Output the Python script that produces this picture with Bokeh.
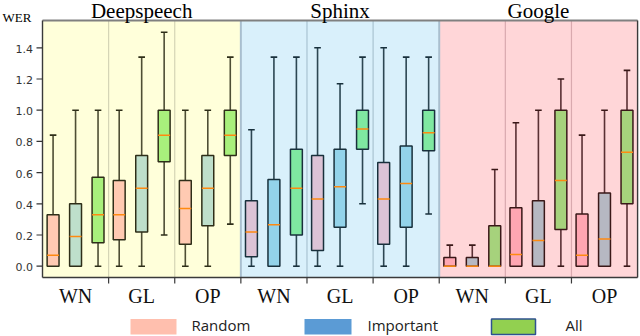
from bokeh.plotting import figure
from bokeh.models import ColumnDataSource, Range1d
from bokeh.core.properties import value
from bokeh.embed import file_html
from bokeh.resources import INLINE

# ---------------- data ----------------
systems = ["Deepspeech", "Sphinx", "Google"]
groups = ["WN", "GL", "OP"]
variants = ["Random", "Important", "All"]
y_ticks = [0.0, 0.2, 0.4, 0.6, 0.8, 1.0, 1.2, 1.4]
y_label = "WER"

# box order inside each system: WN(Random, Important, All), GL(...), OP(...)
ds_low = [0.0, 0.0, 0.0, 0.0, 0.0, 0.20, 0.0, 0.0, 0.27]
ds_q1 = [0.0, 0.0, 0.15, 0.17, 0.22, 0.67, 0.14, 0.26, 0.71]
ds_med = [0.07, 0.19, 0.33, 0.33, 0.50, 0.84, 0.37, 0.50, 0.84]
ds_q3 = [0.33, 0.40, 0.57, 0.55, 0.71, 1.0, 0.55, 0.71, 1.0]
ds_high = [0.84, 1.0, 1.0, 1.0, 1.34, 1.5, 1.0, 1.0, 1.34]

sp_low = [0.0, 0.0, 0.0, 0.0, 0.0, 0.40, 0.0, 0.0, 0.335]
sp_q1 = [0.06, 0.0, 0.20, 0.10, 0.25, 0.75, 0.14, 0.25, 0.74]
sp_med = [0.22, 0.265, 0.50, 0.43, 0.51, 0.88, 0.43, 0.53, 0.855]
sp_q3 = [0.42, 0.555, 0.75, 0.71, 0.75, 1.0, 0.665, 0.77, 1.0]
sp_high = [0.875, 1.34, 1.34, 1.40, 1.17, 1.34, 1.40, 1.34, 1.34]

gg_low = [0.0, 0.0, 0.0, 0.0, 0.0, 0.0, 0.0, 0.0, 0.0]
gg_q1 = [0.0, 0.0, 0.0, 0.0, 0.0, 0.235, 0.0, 0.0, 0.40]
gg_med = [0.0, 0.0, 0.0, 0.075, 0.165, 0.55, 0.07, 0.175, 0.73]
gg_q3 = [0.055, 0.055, 0.26, 0.375, 0.42, 1.0, 0.335, 0.47, 1.0]
gg_high = [0.135, 0.135, 0.62, 0.92, 1.0, 1.2, 0.84, 1.0, 1.255]

stats = {
    "Deepspeech": (ds_low, ds_q1, ds_med, ds_q3, ds_high),
    "Sphinx": (sp_low, sp_q1, sp_med, sp_q3, sp_high),
    "Google": (gg_low, gg_q1, gg_med, gg_q3, gg_high),
}

# ---------------- styles ----------------
bg_colors = {"Deepspeech": "#FFFFDA", "Sphinx": "#D9F0FB", "Google": "#FFD6D8"}
div_colors = {"Deepspeech": "#D5D5B5", "Sphinx": "#A9C3D2", "Google": "#D9A9AE"}
box_fills = {
    "Deepspeech": ["#FFCAB2", "#BEDFCB", "#A8F07C"],
    "Sphinx": ["#DCC3D6", "#93D3EA", "#7FE8A1"],
    "Google": ["#FFA6B2", "#B6B8C2", "#A6D27C"],
}
edge_colors = {"Deepspeech": "#2E2E18", "Sphinx": "#18303C", "Google": "#3A1818"}
whisk_colors = {"Deepspeech": "#4E4E34", "Sphinx": "#2C4652", "Google": "#5A3034"}
median_color = "#FF8A10"
legend_fills = ["#FFBFAE", "#5B9BD5", "#92D050"]
legend_lines = [None, None, "#2F528F"]

offsets = [-0.34, 0.0, 0.34]
box_w = 0.18
cap_w = 0.10

# layout: the frame covers the whole canvas, pixel helpers map to data
W, H = 640, 336
X_SCALE = 66.12          # px per group
X0 = -0.5 - 42 / X_SCALE
X1 = X0 + W / X_SCALE
PX_PER_Y = 156.0
ZERO_PX = 265.7
Y_TOP = ZERO_PX / PX_PER_Y
Y_BOT = Y_TOP - H / PX_PER_Y


def px2x(px):
    return X0 + px / X_SCALE


def px2y(py):
    return Y_TOP - py / PX_PER_Y


AXIS_Y = px2y(277)       # bottom of plotting area
TOP_Y = px2y(20)         # top of plotting area
LEFT_X, RIGHT_X = -0.5, 8.5

p = figure(width=W, height=H, output_backend="svg", toolbar_location=None,
           title=None, x_range=Range1d(X0, X1), y_range=Range1d(Y_BOT, Y_TOP),
           min_border=0, background_fill_color="white", border_fill_color="white")
p.xgrid.visible = False
p.ygrid.visible = False
p.xaxis.visible = False
p.yaxis.visible = False
p.outline_line_color = None

# section backgrounds
for si, s in enumerate(systems):
    p.quad(left=[si * 3 - 0.5], right=[si * 3 + 2.5], bottom=[AXIS_Y], top=[TOP_Y],
           fill_color=bg_colors[s], line_color=None)

# group dividers inside sections
for si, s in enumerate(systems):
    xs = [si * 3 + 0.5, si * 3 + 1.5]
    p.segment(x0=xs, x1=xs, y0=[AXIS_Y] * 2, y1=[TOP_Y] * 2, line_color=div_colors[s], line_width=1.2)
sb = [2.5, 5.5]
p.segment(x0=sb, x1=sb, y0=[AXIS_Y] * 2, y1=[TOP_Y] * 2, line_color="#A9BFCF", line_width=2)

# boxes
for si, s in enumerate(systems):
    low, q1, med, q3, high = stats[s]
    xs, fills = [], []
    for gi in range(len(groups)):
        for vi in range(len(variants)):
            xs.append(si * 3 + gi + offsets[vi])
            fills.append(box_fills[s][vi])
    src = ColumnDataSource(dict(x=xs, low=low, q1=q1, med=med, q3=q3, high=high, fill=fills,
                                xl=[x - box_w / 2 for x in xs], xr=[x + box_w / 2 for x in xs],
                                cl=[x - cap_w / 2 for x in xs], cr=[x + cap_w / 2 for x in xs]))
    wc = whisk_colors[s]
    p.segment(x0="x", x1="x", y0="q3", y1="high", source=src, line_color=wc, line_width=1.6)
    p.segment(x0="x", x1="x", y0="low", y1="q1", source=src, line_color=wc, line_width=1.6)
    p.segment(x0="cl", x1="cr", y0="high", y1="high", source=src, line_color=edge_colors[s], line_width=1.6)
    p.segment(x0="cl", x1="cr", y0="low", y1="low", source=src, line_color=edge_colors[s], line_width=1.6)
    p.quad(left="xl", right="xr", bottom="q1", top="q3", source=src, fill_color="fill",
           line_color=edge_colors[s], line_width=1.5)
    p.segment(x0="xl", x1="xr", y0="med", y1="med", source=src, line_color=median_color, line_width=1.5)

# plot-area border: top grey, others dark
p.segment(x0=[LEFT_X], x1=[RIGHT_X], y0=[TOP_Y], y1=[TOP_Y], line_color="#808080", line_width=1.8)
p.segment(x0=[RIGHT_X], x1=[RIGHT_X], y0=[AXIS_Y], y1=[TOP_Y], line_color="#3A3A3A", line_width=1.4)
p.segment(x0=[LEFT_X], x1=[LEFT_X], y0=[AXIS_Y], y1=[TOP_Y], line_color="#3A3A3A", line_width=1.4)
p.segment(x0=[LEFT_X], x1=[RIGHT_X], y0=[AXIS_Y], y1=[AXIS_Y], line_color="#3A3A3A", line_width=1.4)


# text baseline correction (Bokeh places alphabetic baselines somewhat low)
def base(py, size, k=0.25):
    return px2y(py - k * size)


# y ticks and labels
p.segment(x0=[px2x(36)] * len(y_ticks), x1=[LEFT_X] * len(y_ticks), y0=y_ticks, y1=y_ticks,
          line_color="#333333", line_width=1.2)
p.text(x=[px2x(32.5)] * len(y_ticks), y=[t - (3.8 - 0.25 * 11) / PX_PER_Y for t in y_ticks],
       text=[f"{t:.1f}" for t in y_ticks], text_align="right", text_baseline="alphabetic",
       text_font=value("DejaVu Sans"), text_font_size="11px", text_color="#333333")
p.text(x=[px2x(2)], y=[base(20, 13)], text=[y_label], text_align="left",
       text_baseline="alphabetic", text_font=value("Liberation Serif"),
       text_font_size="13px", text_color="#000000")

# x ticks at group boundaries and category labels
centers = [si * 3 + gi for si in range(len(systems)) for gi in range(len(groups))]
bounds = [c + 0.5 for c in centers[:-1]]
p.segment(x0=bounds, x1=bounds, y0=[AXIS_Y] * len(bounds), y1=[px2y(283)] * len(bounds),
          line_color="#3A3A3A", line_width=1.2)
p.text(x=centers, y=[base(300.5, 20)] * len(centers), text=[groups[i % 3] for i in range(len(centers))],
       text_align="center", text_baseline="alphabetic", text_font=value("Liberation Serif"),
       text_font_size="20px", text_color="#111111")

# section titles
p.text(x=[si * 3 + 1 for si in range(len(systems))], y=[base(15.5, 21)] * len(systems),
       text=systems, text_align="center", text_baseline="alphabetic",
       text_font=value("Liberation Serif"), text_font_size="21px", text_color="#000000")

# legend (drawn manually below the plotting area)
patch_px = [(130, 176), (304, 351), (491, 535)]
text_px = [191, 367, 565]
for vi, v in enumerate(variants):
    a, b = patch_px[vi]
    p.quad(left=[px2x(a)], right=[px2x(b)], top=[px2y(318.5)], bottom=[px2y(334)],
           fill_color=legend_fills[vi], line_color=legend_lines[vi], line_width=1.5)
p.text(x=[px2x(t) for t in text_px], y=[base(332.5, 15, 0.55)] * 3, text=variants,
       text_align="left", text_baseline="alphabetic", text_font=value("Open Sans"),
       text_font_size="15px", text_color="#222222")

open("out.html", "w").write(file_html(p, INLINE))
